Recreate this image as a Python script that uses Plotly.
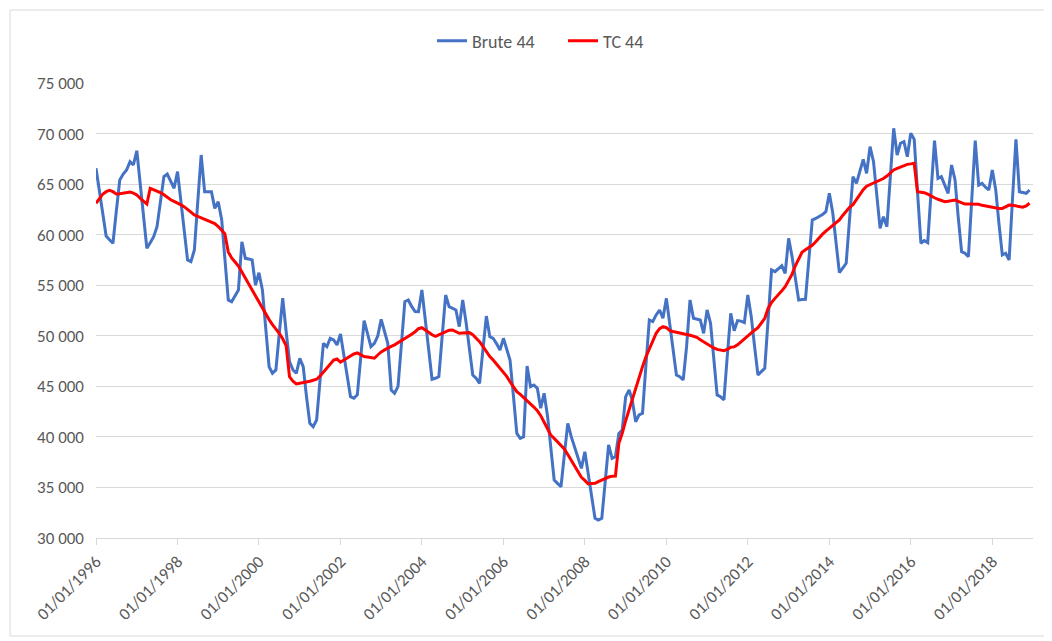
import pandas as pd
import plotly.graph_objects as go

# Monthly values, Jan..Dec, one list per year
brute_44 = {
    1996: [66560, 64300, 62000, 59870, 59500, 59150, 62300, 65410, 66000, 66400, 67220, 66890],
    1997: [68300, 65000, 61800, 58650, 59200, 59800, 60790, 63300, 65740, 66000, 65300, 64590],
    1998: [66230, 63300, 60400, 57500, 57330, 58480, 63200, 67880, 64250, 64250, 64250, 62600],
    1999: [63260, 61450, 57500, 53540, 53370, 53950, 54530, 59300, 57660, 57600, 57500, 55000],
    2000: [56240, 54530, 50700, 46940, 46290, 46620, 50200, 53710, 50400, 47440, 46620, 46290],
    2001: [47770, 46940, 44100, 41340, 41010, 41670, 45500, 49250, 48920, 49750, 49580, 49090],
    2002: [50180, 48100, 46000, 43980, 43820, 44150, 47800, 51500, 50200, 48920, 49250, 49970],
    2003: [51630, 50400, 49250, 44640, 44310, 45000, 49200, 53370, 53540, 52900, 52400, 52380],
    2004: [54530, 51600, 48650, 45700, 45800, 45960, 50000, 54030, 52880, 52700, 52550, 50900],
    2005: [53540, 51230, 48700, 46120, 45800, 45300, 48600, 51950, 49910, 49750, 49200, 48590],
    2006: [49750, 48700, 47600, 44000, 40350, 39860, 40020, 47010, 44960, 45130, 44800, 42830],
    2007: [44310, 42000, 38900, 35740, 35400, 35070, 38200, 41340, 40020, 39030, 37880, 36890],
    2008: [38530, 36390, 34200, 31950, 31780, 31950, 35500, 39200, 37880, 38040, 40350, 40680],
    2009: [43980, 44640, 43650, 41500, 42170, 42340, 47000, 51560, 51400, 52060, 52550, 51730],
    2010: [53700, 51000, 48500, 46120, 45960, 45630, 48920, 53540, 51730, 51650, 51560, 50240],
    2011: [52550, 51230, 47700, 44150, 43980, 43650, 48000, 52220, 50500, 51500, 51450, 51300],
    2012: [54030, 51890, 49000, 46120, 46450, 46780, 51600, 56510, 56340, 56600, 56930, 56180],
    2013: [59640, 57820, 55700, 53540, 53580, 53610, 57500, 61450, 61600, 61780, 62000, 62270],
    2014: [64090, 62110, 59200, 56240, 56700, 57170, 61500, 65740, 65080, 66200, 67450, 66070],
    2015: [68700, 67220, 63900, 60630, 61780, 60790, 65600, 70520, 67880, 69040, 69200, 67710],
    2016: [70030, 69430, 64300, 59150, 59410, 59210, 64200, 69300, 65570, 65740, 64900, 64090],
    2017: [66890, 65410, 61800, 58320, 58160, 57820, 63500, 69300, 64910, 65080, 64700, 64420],
    2018: [66400, 64420, 61200, 57990, 58160, 57500, 63500, 69430, 64250, 64170, 64090, 64420],
}

tc_44 = {
    1996: [63100, 63600, 64000, 64250, 64380, 64250, 64020, 64050, 64100, 64180, 64220, 64100],
    1997: [63920, 63600, 63300, 63030, 64590, 64450, 64300, 64150, 63950, 63700, 63450, 63300],
    1998: [63150, 62950, 62770, 62500, 62200, 61950, 61800, 61650, 61550, 61400, 61250, 61100],
    1999: [60800, 60450, 60100, 58300, 57700, 57300, 56900, 56300, 55700, 55100, 54500, 53900],
    2000: [53300, 52700, 52100, 51600, 51100, 50700, 50250, 49700, 49000, 45960, 45500, 45230],
    2001: [45280, 45340, 45400, 45500, 45600, 45700, 46000, 46400, 46800, 47200, 47600, 47700],
    2002: [47400, 47600, 47800, 48000, 48200, 48300, 48100, 47950, 47900, 47850, 47780, 48100],
    2003: [48400, 48600, 48800, 48950, 49100, 49300, 49500, 49700, 49900, 50150, 50400, 50700],
    2004: [50800, 50600, 50350, 50100, 49950, 50100, 50250, 50400, 50550, 50570, 50400, 50250],
    2005: [50280, 50300, 50310, 50100, 49750, 49420, 48950, 48400, 47950, 47600, 47200, 46750],
    2006: [46300, 45960, 45450, 44950, 44470, 44200, 43900, 43650, 43300, 42950, 42600, 42100],
    2007: [41450, 40800, 40190, 39850, 39500, 39150, 38800, 38250, 37700, 37100, 36500, 36000],
    2008: [35700, 35340, 35380, 35410, 35580, 35740, 35950, 36030, 36100, 36130, 39370, 40350],
    2009: [41600, 42700, 43800, 45000, 46000, 46950, 47900, 48700, 49500, 50240, 50700, 50900],
    2010: [50800, 50500, 50420, 50350, 50300, 50250, 50150, 50050, 49950, 49850, 49600, 49400],
    2011: [49150, 48920, 48800, 48650, 48550, 48520, 48650, 48860, 48900, 49100, 49400, 49700],
    2012: [49950, 50250, 50550, 50800, 51250, 51730, 52700, 53300, 53700, 54030, 54450, 54850],
    2013: [55500, 56100, 56900, 57600, 58250, 58500, 58700, 58950, 59300, 59700, 60050, 60350],
    2014: [60650, 60900, 61200, 61450, 61900, 62350, 62700, 62970, 63470, 63960, 64450, 64800],
    2015: [64950, 65050, 65200, 65350, 65550, 65800, 66100, 66400, 66550, 66700, 66850, 66950],
    2016: [67000, 67060, 64250, 64200, 64150, 64000, 63800, 63650, 63500, 63350, 63260, 63300],
    2017: [63400, 63430, 63300, 63150, 63030, 63030, 63030, 63030, 63000, 62900, 62840, 62750],
    2018: [62650, 62600, 62600, 62600, 62750, 62930, 62900, 62850, 62770, 62720, 62850, 63100],
}

years = list(range(1996, 2019))
dates = pd.date_range("1996-01-01", periods=12 * len(years), freq="MS")
brute_vals = [v for y in years for v in brute_44[y]]
tc_vals = [v for y in years for v in tc_44[y]]

tick_dates = pd.date_range("1996-01-01", "2018-01-01", freq="24MS")
tick_text = [d.strftime("%d/%m/%Y") for d in tick_dates]
y_ticks = list(range(30000, 75001, 5000))

FONT = "Calibri, Carlito, Lato, sans-serif"
GREY = "#595959"
FS = 17

fig = go.Figure()
fig.add_trace(go.Scatter(x=dates, y=brute_vals, mode="lines", name="Brute 44",
                         line=dict(color="#4472C4", width=3)))
fig.add_trace(go.Scatter(x=dates, y=tc_vals, mode="lines", name="TC 44",
                         line=dict(color="#FF0000", width=3)))

# page body has an 8px margin: figure is placed at (8, 8)
fig.update_layout(
    width=1044, height=633,
    margin=dict(l=88, r=19, t=75, b=103),
    paper_bgcolor="white", plot_bgcolor="white",
    separators=", ",
    font=dict(family=FONT, size=FS, color=GREY),
    showlegend=True,
    legend=dict(orientation="h", x=(432 - 96) / 937, xanchor="left", y=1.092, yanchor="middle",
                font=dict(family=FONT, size=18, color=GREY), itemwidth=30,
                entrywidth=86, entrywidthmode="pixels",
                bgcolor="rgba(0,0,0,0)"),
    xaxis=dict(type="date", range=["1996-01-01", "2019-01-01"],
               tickvals=list(tick_dates), ticktext=tick_text, tickangle=-45,
               showgrid=False, showline=True, linecolor="#d9d9d9", linewidth=1,
               ticks="outside", ticklen=6, tickcolor="#d9d9d9",
               tickfont=dict(family=FONT, size=FS, color=GREY), zeroline=False),
    yaxis=dict(range=[30000, 75000], tickvals=y_ticks, tickformat=",d",
               showgrid=True, gridcolor="#d9d9d9", gridwidth=1, zeroline=False,
               showline=False, ticks="", ticklabelstandoff=11,
               tickfont=dict(family=FONT, size=FS, color=GREY)),
    shapes=[dict(type="rect", xref="paper", yref="paper",
                 x0=(10 - 96) / 937, x1=(1046 - 96) / 937,
                 y0=(538 - 636) / 455, y1=(538 - 10) / 455,
                 line=dict(color="#d9d9d9", width=1), fillcolor="rgba(0,0,0,0)", layer="below")],
)

fig.write_html("out.html")
